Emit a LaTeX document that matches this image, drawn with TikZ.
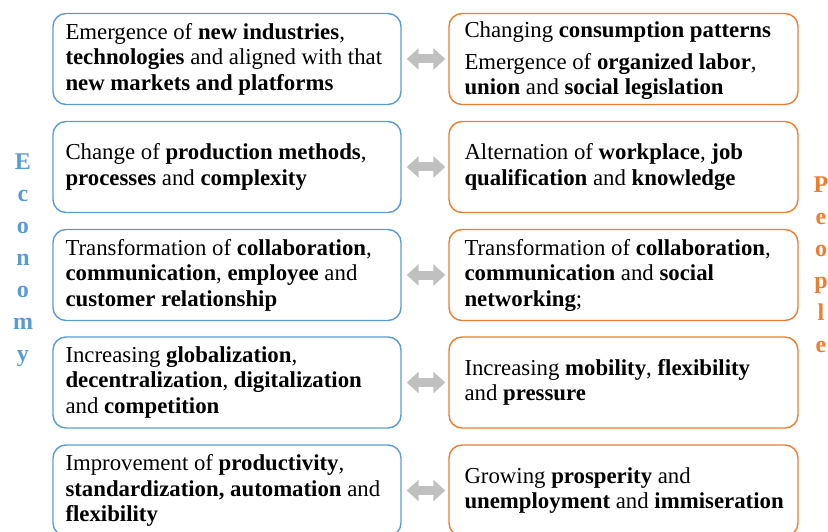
\documentclass[tikz,border=0pt]{standalone}
\usepackage{fontspec}
\setmainfont{Liberation Serif}
\usetikzlibrary{arrows.meta}
\definecolor{ecoblue}{RGB}{91,155,213}
\definecolor{pplorange}{RGB}{237,125,49}
\definecolor{linkgray}{RGB}{192,192,192}

\begin{document}
\begin{tikzpicture}[x=1pt,y=-1pt,
  ebox/.style={draw=ecoblue, line width=1.4pt, rounded corners=13pt,
    minimum width=348pt, minimum height=91pt, inner sep=0pt},
  pbox/.style={draw=pplorange, line width=1.4pt, rounded corners=13pt,
    minimum width=349pt, minimum height=91pt, inner sep=0pt},
  txt/.style={anchor=west, align=left, inner sep=0pt,
    font=\fontsize{22.8}{25.5}\selectfont},
  link/.style={draw=linkgray, line width=9pt,
    {Triangle[width=21pt,length=12pt]}-{Triangle[width=21pt,length=12pt]},
    shorten <=5pt, shorten >=3pt},
  side/.style={align=center, inner sep=0pt,
    font=\fontsize{24}{32}\selectfont\bfseries}
]
\clip (0,0) rectangle (828,532);
\useasboundingbox (0,0) rectangle (828,532);

% economy column
\node[ebox] (e1) at (227,59) {};
\node[ebox] (e2) at (227,167) {};
\node[ebox] (e3) at (227,275) {};
\node[ebox] (e4) at (227,382.5) {};
\node[ebox] (e5) at (227,490.5) {};

% people column
\node[pbox] (p1) at (623.5,59) {};
\node[pbox] (p2) at (623.5,167) {};
\node[pbox] (p3) at (623.5,275) {};
\node[pbox] (p4) at (623.5,382.5) {};
\node[pbox] (p5) at (623.5,490.5) {};

% texts of the economy boxes
\node[txt] (e1t) at ([xshift=13pt]e1.west) {Emergence of \textbf{new industries},\\ \textbf{technologies} and aligned with that\\ \textbf{new markets and platforms}};
\node[txt] (e2t) at ([xshift=13pt]e2.west) {Change of \textbf{production methods},\\ \textbf{processes} and \textbf{complexity}};
\node[txt] (e3t) at ([xshift=13pt]e3.west) {Transformation of \textbf{collaboration},\\ \textbf{communication}, \textbf{employee} and\\ \textbf{customer relationship}};
\node[txt] (e4t) at ([xshift=13pt]e4.west) {Increasing \textbf{globalization},\\ \textbf{decentralization}, \textbf{digitalization}\\ and \textbf{competition}};
\node[txt] (e5t) at ([xshift=13pt]e5.west) {Improvement of \textbf{productivity},\\ \textbf{standardization, automation} and\\ \textbf{flexibility}};

% texts of the people boxes
\node[txt] (p1t) at ([xshift=16pt,yshift=-2pt]p1.west) {Changing \textbf{consumption patterns}\\[6pt] Emergence of \textbf{organized labor},\\ \textbf{union} and \textbf{social legislation}};
\node[txt] (p2t) at ([xshift=16pt]p2.west) {Alternation of \textbf{workplace}, \textbf{job}\\ \textbf{qualification} and \textbf{knowledge}};
\node[txt] (p3t) at ([xshift=16pt]p3.west) {Transformation of \textbf{collaboration},\\ \textbf{communication} and \textbf{social}\\ \textbf{networking};};
\node[txt] (p4t) at ([xshift=16pt]p4.west) {Increasing \textbf{mobility}, \textbf{flexibility}\\ and \textbf{pressure}};
\node[txt] (p5t) at ([xshift=16pt]p5.west) {Growing \textbf{prosperity} and\\ \textbf{unemployment} and \textbf{immiseration}};

% two-way links
\foreach \i in {1,...,5}
  \draw[link] (e\i.east) -- (p\i.west);

% side titles
\node[side, text=ecoblue] (eco) at (23,260) {E\\c\\o\\n\\o\\m\\y};
\node[side, text=pplorange] (ppl) at (821,265) {P\\e\\o\\p\\l\\e};
\end{tikzpicture}
\end{document}
